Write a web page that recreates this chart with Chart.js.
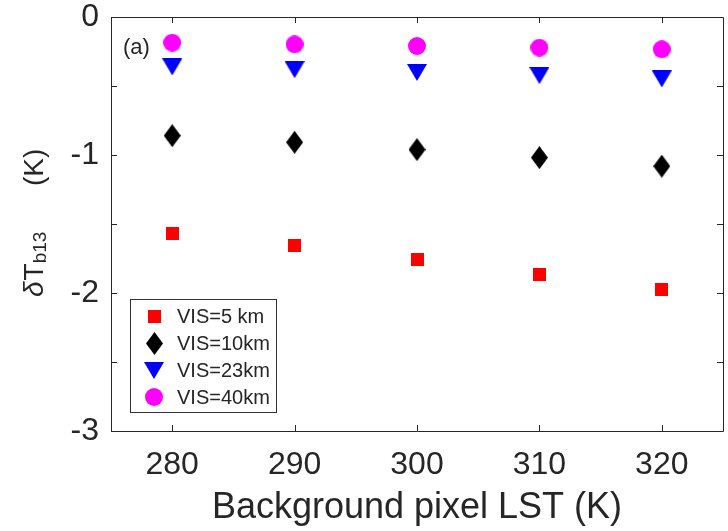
<!DOCTYPE html>
<html>
<head>
<meta charset="utf-8">
<script src="https://cdn.jsdelivr.net/npm/chart.js@4/dist/chart.umd.min.js"></script>
<style>
  html, body { margin: 0; padding: 0; background: #fff; }
  #wrap { width: 728px; height: 531px; }
</style>
</head>
<body>
<div id="wrap"><canvas id="myChart" width="728" height="531"></canvas></div>
<script>
// background pixel LST (K)
var lst = [280, 290, 300, 310, 320];

// delta Tb13 (K) for each visibility
var vis5km = [-1.572, -1.659, -1.757, -1.864, -1.978];
var vis10km = [-0.860, -0.908, -0.961, -1.019, -1.081];
var vis23km = [-0.362, -0.382, -0.402, -0.425, -0.449];
var vis40km = [-0.186, -0.198, -0.210, -0.222, -0.234];

var seriesNames = ['VIS=5 km', 'VIS=10km', 'VIS=23km', 'VIS=40km'];

var xTicks = [280, 290, 300, 310, 320];
var yTicks = [0, -0.5, -1, -1.5, -2, -2.5, -3];
var yTickLabels = ['0', '', '-1', '', '-2', '', '-3'];

var FONT = '"Liberation Sans", Arial, Helvetica, sans-serif';
var INK = '#262626';

function makeMarker(w, h, color, shape) {
    var c = document.createElement('canvas');
    c.width = w;
    c.height = h;
    var g = c.getContext('2d');
    g.fillStyle = color;
    g.beginPath();
    if (shape === 'square') {
        g.rect(0, 0, w, h);
    } else if (shape === 'diamond') {
        g.moveTo(w / 2, 0);
        g.lineTo(w, h / 2);
        g.lineTo(w / 2, h);
        g.lineTo(0, h / 2);
        g.closePath();
    } else if (shape === 'down') {
        g.moveTo(0, 0);
        g.lineTo(w, 0);
        g.lineTo(w / 2, h);
        g.closePath();
    } else {
        g.arc(w / 2, h / 2, w / 2, 0, Math.PI * 2);
    }
    g.fill();
    return c;
}

var markers = [
    makeMarker(13, 13, '#ff0000', 'square'),
    makeMarker(17, 23, '#000000', 'diamond'),
    makeMarker(20, 17, '#0000ff', 'down'),
    makeMarker(18, 18, '#ff00ff', 'circle')
];

function toPoints(ys) {
    return lst.map(function (x, i) { return { x: x, y: ys[i] }; });
}

// axes box with inward ticks on all four sides, legend, (a) tag and y title
var frame = {
    id: 'frame',
    afterDraw: function (chart) {
        var ctx = chart.ctx;
        var a = chart.chartArea;
        var xs = chart.scales.x, ys = chart.scales.y;
        ctx.save();
        ctx.strokeStyle = INK;
        ctx.lineWidth = 1;
        ctx.beginPath();
        ctx.rect(Math.round(a.left) + 0.5, Math.round(a.top) + 0.5,
            Math.round(a.right - a.left), Math.round(a.bottom - a.top));
        xTicks.forEach(function (v) {
            var px = Math.round(xs.getPixelForValue(v)) + 0.5;
            ctx.moveTo(px, a.bottom);
            ctx.lineTo(px, a.bottom - 6);
            ctx.moveTo(px, a.top);
            ctx.lineTo(px, a.top + 6);
        });
        yTicks.forEach(function (v) {
            var py = Math.round(ys.getPixelForValue(v)) + 0.5;
            ctx.moveTo(a.left, py);
            ctx.lineTo(a.left + 6, py);
            ctx.moveTo(a.right, py);
            ctx.lineTo(a.right - 6, py);
        });
        ctx.stroke();

        ctx.fillStyle = INK;
        ctx.font = '22px ' + FONT;
        ctx.textBaseline = 'middle';
        ctx.textAlign = 'left';
        ctx.fillText('(a)', a.left + 12, a.top + 31);

        // legend box
        var lx = 130, ly = 299, lw = 146, lh = 113;
        ctx.fillStyle = '#fff';
        ctx.fillRect(lx, ly, lw, lh);
        ctx.strokeStyle = '#333';
        ctx.strokeRect(lx + 0.5, ly + 0.5, lw, lh);
        ctx.font = '20px ' + FONT;
        chart.data.datasets.forEach(function (ds, i) {
            var cy = 316 + i * 27;
            var m = markers[i];
            ctx.drawImage(m, Math.round(154 - m.width / 2), Math.round(cy - m.height / 2));
            ctx.fillStyle = INK;
            ctx.fillText(ds.label, 177, cy + 1);
        });

        // y axis title: delta T with subscript b13, then (K)
        ctx.translate(43, (a.top + a.bottom) / 2);
        ctx.rotate(-Math.PI / 2);
        ctx.textBaseline = 'alphabetic';
        ctx.fillStyle = INK;
        var big = '28px ' + FONT, small = '19px ' + FONT;
        var x0 = -73;
        ctx.font = 'italic ' + big;
        ctx.fillText('\u03b4', x0, 0);
        x0 += ctx.measureText('\u03b4').width + 1;
        ctx.font = big;
        ctx.fillText('T', x0, 0);
        x0 += ctx.measureText('T').width;
        ctx.font = small;
        ctx.fillText('b13', x0, 3);
        ctx.font = big;
        ctx.fillText('(K)', 38, 0);
        ctx.restore();
    }
};

var ctx = document.getElementById('myChart').getContext('2d');
var chart = new Chart(ctx, {
    type: 'scatter',
    data: {
        datasets: [vis5km, vis10km, vis23km, vis40km].map(function (ys, i) {
            return {
                label: seriesNames[i],
                data: toPoints(ys),
                pointStyle: markers[i],
                showLine: false
            };
        })
    },
    options: {
        responsive: false,
        animation: false,
        layout: { padding: { top: 17, right: 5, left: 0, bottom: 0 } },
        plugins: {
            legend: { display: false },
            tooltip: { enabled: false }
        },
        scales: {
            x: {
                type: 'linear',
                min: 275,
                max: 325,
                grid: { display: false, drawTicks: false },
                border: { display: false },
                afterBuildTicks: function (scale) {
                    scale.ticks = xTicks.map(function (v) { return { value: v }; });
                },
                afterFit: function (scale) {
                    scale.height = 100;
                    scale.paddingLeft = 0;
                    scale.paddingRight = 0;
                },
                ticks: {
                    padding: 15,
                    color: INK,
                    font: { family: FONT, size: 32 },
                    maxRotation: 0
                },
                title: {
                    display: true,
                    text: 'Background pixel LST (K)',
                    color: INK,
                    font: { family: FONT, size: 36 },
                    padding: { top: 0, bottom: 1 }
                }
            },
            y: {
                type: 'linear',
                min: -3,
                max: 0,
                grid: { display: false, drawTicks: false },
                border: { display: false },
                afterBuildTicks: function (scale) {
                    scale.ticks = yTicks.map(function (v) { return { value: v }; });
                },
                afterFit: function (scale) {
                    scale.width = 111;
                    scale.paddingTop = 0;
                    scale.paddingBottom = 0;
                },
                ticks: {
                    padding: 12,
                    color: INK,
                    font: { family: FONT, size: 32 },
                    callback: function (v) {
                        var k = yTicks.indexOf(v);
                        return k >= 0 ? yTickLabels[k] : '';
                    }
                }
            }
        }
    },
    plugins: [frame]
});
</script>
</body>
</html>
